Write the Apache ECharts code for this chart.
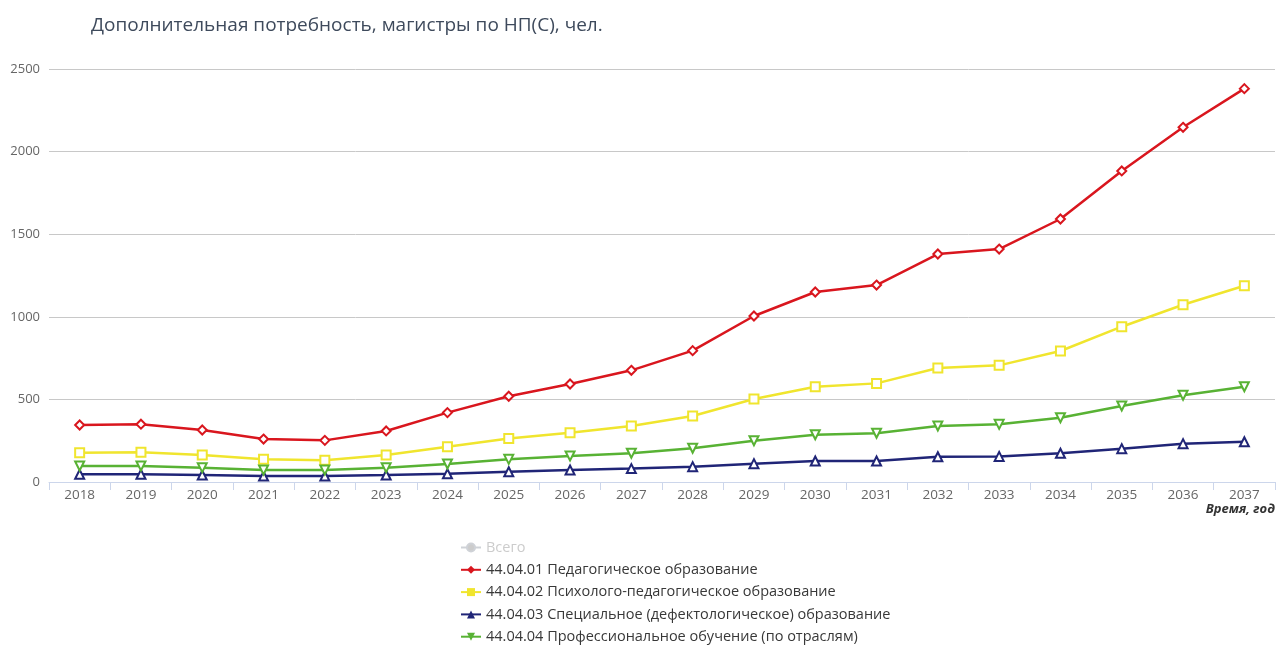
<!DOCTYPE html>
<html>
<head>
<meta charset="utf-8">
<script src="https://cdn.jsdelivr.net/npm/echarts@6/dist/echarts.min.js"></script>
<style>
  html, body { margin: 0; padding: 0; background: #fff; }
  #chart { width: 1278px; height: 646px; }
</style>
</head>
<body>
<div id="chart"></div>
<script>
const years = ['2018', '2019', '2020', '2021', '2022', '2023', '2024', '2025', '2026', '2027',
  '2028', '2029', '2030', '2031', '2032', '2033', '2034', '2035', '2036', '2037']

// 44.04.01 Педагогическое образование
const pedagog = [345, 350, 315, 260, 252, 309, 420, 519, 593, 676,
  795, 1005, 1150, 1192, 1380, 1410, 1592, 1883, 2147, 2381]
// 44.04.02 Психолого-педагогическое образование
const psycho = [177, 180, 163, 137, 131, 163, 214, 264, 298, 339,
  400, 502, 577, 597, 690, 706, 793, 940, 1073, 1188]
// 44.04.03 Специальное (дефектологическое) образование
const special = [47, 47, 42, 36, 36, 42, 50, 62, 73, 81,
  93, 111, 127, 127, 153, 155, 174, 202, 232, 244]
// 44.04.04 Профессиональное обучение (по отраслям)
const profession = [97, 97, 87, 73, 73, 87, 109, 137, 157, 174,
  204, 250, 286, 295, 339, 349, 389, 460, 525, 577]

const seriesNames = [
  'Всего',
  '44.04.01 Педагогическое образование',
  '44.04.02 Психолого-педагогическое образование',
  '44.04.03 Специальное (дефектологическое) образование',
  '44.04.04 Профессиональное обучение (по отраслям)',
]
const seriesColors = ['#bbbbbb', '#d9161e', '#f0e52e', '#202577', '#58b234']

const font = '"Open Sans", "Noto Sans", sans-serif'

function lineSeries(i, data, symbol, size) {
  const color = seriesColors[i]
  return {
    name: seriesNames[i],
    type: 'line',
    data,
    symbol,
    symbolSize: size,
    showAllSymbol: true,
    lineStyle: { color, width: 2.5 },
    itemStyle: { color: '#fff', borderColor: color, borderWidth: 2 },
    emphasis: { disabled: true },
  }
}

const chart = echarts.init(document.getElementById('chart'), null, { renderer: 'canvas' })
chart.setOption({
  animation: false,
  textStyle: { fontFamily: font },
  title: {
    text: 'Дополнительная потребность, магистры по НП(С), чел.',
    left: 86,
    top: 11,
    textStyle: { fontFamily: font, fontSize: 19, fontWeight: 'normal', color: '#3e4a5c' },
  },
  grid: { left: 49, right: 1, top: 69, bottom: 164, containLabel: false },
  xAxis: {
    type: 'category',
    data: years,
    boundaryGap: true,
    name: 'Время, год',
    nameLocation: 'end',
    nameGap: 0,
    nameTextStyle: {
      fontFamily: font, fontSize: 13, fontWeight: 'bold', fontStyle: 'italic',
      color: '#333', align: 'right', verticalAlign: 'top', padding: [21, 0, 0, 0],
    },
    axisLine: { lineStyle: { color: '#ccd6eb', width: 1 } },
    axisTick: { show: true, length: 8, lineStyle: { color: '#ccd6eb' } },
    axisLabel: { color: '#666', fontSize: 13.5, margin: 6 },
    splitLine: { show: false },
  },
  yAxis: {
    type: 'value',
    min: 0,
    max: 2500,
    interval: 500,
    axisLine: { show: false },
    axisTick: { show: false },
    axisLabel: { color: '#666', fontSize: 13, margin: 9, formatter: v => String(v) },
    splitLine: { lineStyle: { color: '#c8c8c8', width: 1 } },
  },
  legend: {
    orient: 'vertical',
    left: 455,
    top: 535,
    height: 200,
    itemGap: 7.3,
    itemWidth: 20,
    itemHeight: 10,
    data: seriesNames.map((name, i) => ({
      name,
      itemStyle: { color: seriesColors[i], borderWidth: 0 },
    })),
    selected: { 'Всего': false },
    inactiveColor: '#cccccc',
    textStyle: { fontFamily: font, fontSize: 14.5, color: '#383838' },
  },
  series: [
    lineSeries(0, [], 'circle', 8),
    lineSeries(1, pedagog, 'diamond', 9),
    lineSeries(2, psycho, 'rect', 9),
    lineSeries(3, special, 'triangle', 9),
    Object.assign(lineSeries(4, profession, 'triangle', 9), { symbolRotate: 180 }),
  ],
})
</script>
</body>
</html>
